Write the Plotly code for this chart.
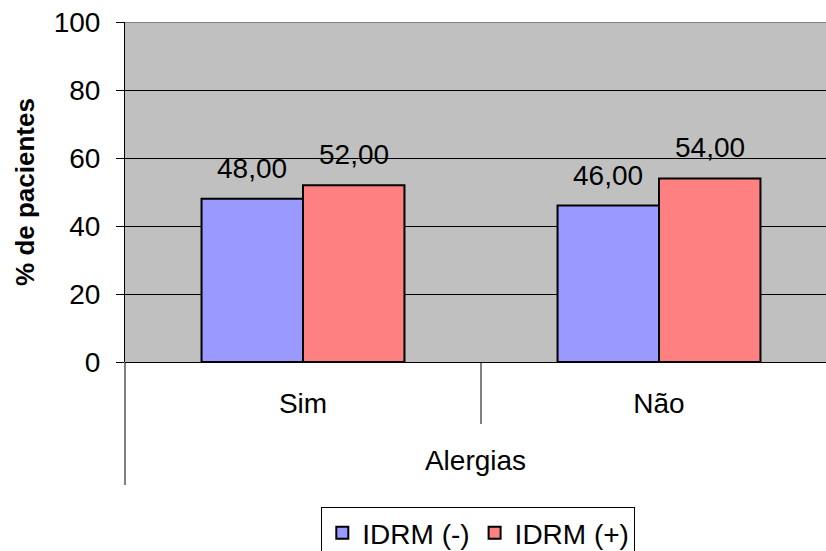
import plotly.graph_objects as go

# Data
categories = ["Sim", "Não"]
series_names = ["IDRM (-)", "IDRM (+)"]
idrm_neg = [48.0, 46.0]
idrm_pos = [52.0, 54.0]
y_ticks = [0, 20, 40, 60, 80, 100]

colors = ["#9999FF", "#FF8080"]
FONT = "Liberation Sans, Arial, sans-serif"
FS = 28

W, H = 826, 551
L, T, B = 125, 22, 189
plot_h = H - T - B
BARGAP = 0.43


def paper_y(px):
    """Convert a pixel row below the plot bottom into paper coordinates."""
    return (H - B - px) / plot_h


def fmt(v):
    return f"{v:.2f}".replace(".", ",")


fig = go.Figure()
series = [idrm_neg, idrm_pos]
for name, vals, col in zip(series_names, series, colors):
    fig.add_trace(go.Bar(
        name=name, x=categories, y=vals,
        marker=dict(color=col, line=dict(color="black", width=2)),
    ))

# value labels above each bar, centred on the grouped bar positions
bar_w = (1 - BARGAP) / len(series)
annotations = []
for s, vals in enumerate(series):
    offset = (s - (len(series) - 1) / 2) * bar_w
    for i, v in enumerate(vals):
        annotations.append(dict(
            x=i + offset, y=v, xref="x", yref="y", text=fmt(v),
            showarrow=False, yanchor="bottom", yshift=13,
            font=dict(family=FONT, size=FS, color="black"),
        ))

fig.update_layout(
    width=W, height=H,
    margin=dict(l=L, r=0, t=T, b=B, autoexpand=False),
    paper_bgcolor="white", plot_bgcolor="#C0C0C0",
    barmode="group", bargap=BARGAP, bargroupgap=0,
    font=dict(family=FONT, size=FS, color="black"),
    annotations=annotations,
    legend=dict(
        orientation="h", x=0.504, xanchor="center", y=paper_y(507), yanchor="top",
        bgcolor="white", bordercolor="black", borderwidth=1,
        font=dict(family=FONT, size=FS, color="black"),
        itemsizing="constant", traceorder="normal",
    ),
    xaxis=dict(
        range=[-0.5, -0.5 + (W - L) / 356], showgrid=False, automargin=False,
        ticks="", ticklabelstandoff=22,
        tickfont=dict(family=FONT, size=FS, color="black"),
        title=dict(text="Alergias", standoff=32,
                   font=dict(family=FONT, size=FS, color="black")),
        showline=False, zeroline=False,
    ),
    yaxis=dict(
        range=[0, 100], tickvals=y_ticks, showgrid=True, automargin=False,
        gridcolor="black", gridwidth=1,
        ticks="outside", ticklen=8, tickcolor="black", tickwidth=1,
        ticklabelstandoff=10,
        tickfont=dict(family=FONT, size=FS, color="black"),
        showline=True, linecolor="black", linewidth=1,
        zeroline=True, zerolinecolor="black", zerolinewidth=1,
        title=dict(text="<b>% de pacientes</b>", standoff=11,
                   font=dict(family=FONT, size=26, color="black")),
    ),
    shapes=[
        # plot-area top border
        dict(type="line", xref="paper", yref="y", x0=0, x1=1, y0=100, y1=100,
             line=dict(color="#808080", width=2), layer="above"),
        # left axis continued through the category band
        dict(type="line", xref="paper", yref="paper", x0=0, x1=0,
             y0=0, y1=paper_y(485), line=dict(color="black", width=1)),
        # divider between categories
        dict(type="line", xref="x", yref="paper", x0=0.5, x1=0.5,
             y0=0, y1=paper_y(424), line=dict(color="black", width=1)),
    ],
)

fig.write_html("out.html")
